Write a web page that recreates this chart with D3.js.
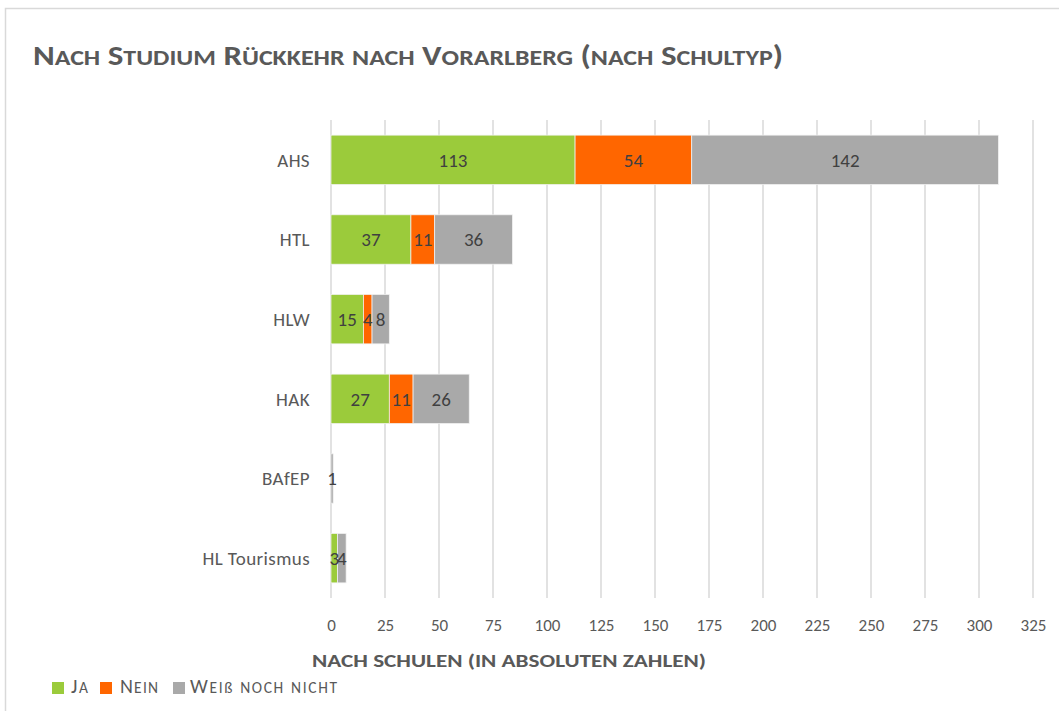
<!DOCTYPE html>
<html><head><meta charset="utf-8">
<script src="https://cdn.jsdelivr.net/npm/d3@7/dist/d3.min.js"></script>
<style>body{margin:0;background:#fff;} svg{display:block;font-family:Carlito,Calibri,Lato,sans-serif;}</style>
</head><body><svg id="c" width="1059" height="711"></svg>
<script>
const categories = ["AHS","HTL","HLW","HAK","BAfEP","HL Tourismus"];
const seriesNames = ["Ja","Nein","Weiß noch nicht"];
const ja = [113,37,15,27,0,3];
const nein = [54,11,4,11,0,0];
const weiss = [142,36,8,26,1,4];
const xTicks = [0,25,50,75,100,125,150,175,200,225,250,275,300,325];
const colors = ["#9BCB3B","#FF6600","#A9A9A9"];

// manual small caps: lowercase letters drawn as capitals at a smaller size
function smallCaps(sel, str, big, small){
  const runs=[];
  for(const ch of str){
    const isLower = ch !== ch.toUpperCase() || ch === "ß";
    const size = isLower ? small : big;
    const c = (ch === "ß") ? "ß" : ch.toUpperCase();
    if(runs.length && runs[runs.length-1].size===size) runs[runs.length-1].t+=c;
    else runs.push({size,t:c});
  }
  sel.selectAll("tspan").data(runs).join("tspan").attr("font-size",d=>d.size).text(d=>d.t);
}

const svg = d3.select("#c");
svg.append("rect").attr("x",5.5).attr("y",8.5).attr("width",1100).attr("height",800)
  .attr("fill","#fff").attr("stroke","#d9d9d9").attr("stroke-width",1.5);

const title = svg.append("text").attr("x",33).attr("y",65)
  .attr("fill","#595959").attr("font-weight","bold")
  .attr("textLength",750).attr("lengthAdjust","spacingAndGlyphs");
smallCaps(title,"Nach Studium Rückkehr nach Vorarlberg (nach Schultyp)",28,22);

const x = d3.scaleLinear().domain([0,325]).range([331,1033]);
const y = d3.scaleBand().domain(categories).range([120,598]).paddingInner(0.38).paddingOuter(0.19);

const grid = svg.append("g");
grid.selectAll("line").data(xTicks).join("line")
  .attr("x1",d=>x(d)).attr("x2",d=>x(d)).attr("y1",120).attr("y2",598)
  .attr("stroke","#d9d9d9").attr("stroke-width",1.5);

const data = [ja,nein,weiss];
const stack = categories.map((c,i)=>{
  let acc=0;
  return data.map((s,k)=>{const v=s[i];const r={cat:c,k,v,x0:acc,x1:acc+v};acc+=v;return r;});
}).flat();

svg.append("g").selectAll("rect").data(stack.filter(d=>d.v>0)).join("rect")
  .attr("x",d=>x(d.x0)).attr("width",d=>x(d.x1)-x(d.x0))
  .attr("y",d=>y(d.cat)).attr("height",y.bandwidth())
  .attr("fill",d=>colors[d.k]).attr("stroke","#f2f2f2").attr("stroke-width",0.75);

svg.append("g").selectAll("text").data(stack.filter(d=>d.v>0)).join("text")
  .attr("x",d=>x((d.x0+d.x1)/2)).attr("y",d=>y(d.cat)+y.bandwidth()/2)
  .attr("text-anchor","middle").attr("dy","0.36em")
  .attr("font-size",19).attr("fill","#404040").text(d=>d.v);

svg.append("g").selectAll("text").data(categories).join("text")
  .attr("x",310).attr("y",d=>y(d)+y.bandwidth()/2).attr("dy","0.36em")
  .attr("text-anchor","end").attr("font-size",19).attr("letter-spacing",0.4)
  .attr("fill","#595959").text(d=>d);

const xAxis = d3.axisBottom(x).tickValues(xTicks).tickSize(0).tickPadding(0);
const gx = svg.append("g").attr("transform","translate(0,619)").call(xAxis);
gx.select(".domain").remove();
gx.selectAll("text").attr("font-size",17).attr("fill","#595959").attr("font-family","Carlito,Calibri,Lato,sans-serif");

svg.append("text").attr("x",312).attr("y",667)
  .attr("font-size",19).attr("font-weight","bold").attr("fill","#595959")
  .attr("textLength",394).attr("lengthAdjust","spacingAndGlyphs")
  .text("NACH SCHULEN (IN ABSOLUTEN ZAHLEN)");

const leg = svg.append("g");
const legX = [52,100,173];
const legTextX = [71,120,190];
const legW = [17,38,147];
seriesNames.forEach((n,i)=>{
  leg.append("rect").attr("x",legX[i]).attr("y",682).attr("width",12).attr("height",12).attr("fill",colors[i]);
  const t = leg.append("text").attr("x",legTextX[i]).attr("y",693).attr("fill","#595959")
    .attr("textLength",legW[i]).attr("lengthAdjust","spacing");
  smallCaps(t,n,20,15.5);
});
</script></body></html>
